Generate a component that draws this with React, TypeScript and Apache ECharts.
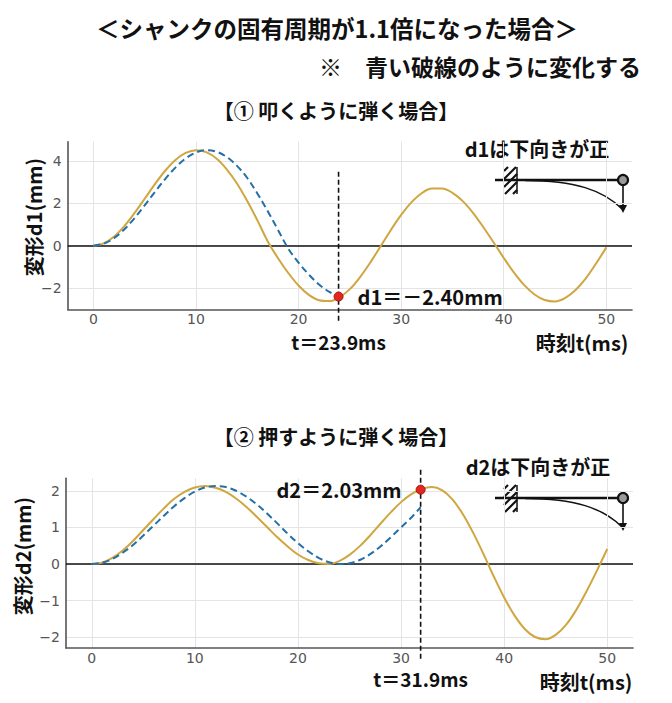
import React, { useEffect, useRef } from "react";
import * as echarts from "echarts";

// ---------- data ----------
const timeMs = [
  0, 1, 2, 3, 4, 5, 6, 7, 8, 9, 10, 11, 12, 13, 14, 15, 16, 17, 18, 19, 20, 21, 22, 23, 24, 25,
  26, 27, 28, 29, 30, 31, 32, 33, 34, 35, 36, 37, 38, 39, 40, 41, 42, 43, 44, 45, 46, 47, 48, 49, 50,
];
// ① 叩くように弾く場合 : original shank (solid)
const d1Original = [
  0, 0.11, 0.42, 0.91, 1.53, 2.21, 2.9, 3.53, 4.04, 4.37, 4.5, 4.41, 4.11, 3.6, 2.93, 2.1, 1.18,
  0.2, -0.59, -1.29, -1.88, -2.32, -2.57, -2.61, -2.43, -2.05, -1.48, -0.79, -0.03, 0.74, 1.45,
  2.04, 2.47, 2.69, 2.69, 2.49, 2.1, 1.55, 0.88, 0.16, -0.58, -1.27, -1.86, -2.3, -2.56, -2.63,
  -2.46, -2.09, -1.54, -0.84, -0.08,
];
// ① period x1.1 (blue dashed)
const d1StretchedTime = [
  0, 1, 2, 3, 4, 5, 6, 7, 8, 9, 10, 11, 12, 13, 14, 15, 16, 17, 18, 19, 20, 21, 22, 23, 23.9,
];
const d1Stretched = [
  0, 0.09, 0.35, 0.76, 1.29, 1.9, 2.53, 3.14, 3.68, 4.11, 4.39, 4.5, 4.43, 4.18, 3.76, 3.19, 2.45,
  1.62, 0.74, -0.14, -0.8, -1.36, -1.83, -2.18, -2.4,
];
const d1Marker = [23.9, -2.4];

// ② 押すように弾く場合 : original shank (solid)
const d2Original = [
  0, 0.04, 0.17, 0.37, 0.63, 0.93, 1.23, 1.52, 1.78, 1.97, 2.09, 2.13, 2.08, 1.97, 1.79, 1.56,
  1.29, 1.01, 0.73, 0.48, 0.26, 0.11, 0.02, 0.0, 0.08, 0.25, 0.49, 0.78, 1.1, 1.41, 1.69, 1.91,
  2.05, 2.1, 2.01, 1.76, 1.36, 0.85, 0.27, -0.34, -0.91, -1.4, -1.77, -1.99, -2.05, -1.93, -1.66,
  -1.25, -0.74, -0.18, 0.41,
];
const d2StretchedTime = [
  0, 1, 2, 3, 4, 5, 6, 7, 8, 9, 10, 11, 12, 13, 14, 15, 16, 17, 18, 19, 20, 21, 22, 23, 24, 25,
  26, 27, 28, 29, 30, 31, 31.9,
];
const d2Stretched = [
  0, 0.04, 0.14, 0.31, 0.52, 0.78, 1.05, 1.32, 1.58, 1.8, 1.98, 2.09, 2.13, 2.1, 2.0, 1.84, 1.63,
  1.38, 1.11, 0.83, 0.57, 0.35, 0.17, 0.05, 0.0, 0.02, 0.11, 0.27, 0.48, 0.73, 1.0, 1.27, 1.55,
];
const d2Marker = [31.9, 2.03];

const xTicks = [0, 10, 20, 30, 40, 50];
const y1Ticks = [-2, 0, 2, 4];
const y2Ticks = [-2, -1, 0, 1, 2];

// ---------- styles ----------
const CJK = '"Noto Sans CJK JP", "Noto Sans", sans-serif';
const NUM = '"DejaVu Sans", sans-serif';
const GOLD = "#cfa63f";
const BLUE = "#2370a8";
const AXIS = "#555555";

const minus = (v: number) => String(v).replace("-", "\u2212");
const zip = (xs: number[], ys: number[]) => xs.map((x, i) => [x, ys[i]]);

function text(str: string, x: number, y: number, size: number, align = "center", extra: any = {}) {
  return {
    type: "text",
    x,
    y,
    ...extra,
    style: {
      text: str,
      fill: "#111",
      font: `bold ${size}px ${CJK}`,
      textAlign: align,
      textVerticalAlign: "middle",
      align,
      verticalAlign: "middle",
    },
  };
}

function beam(ox: number, oy: number) {
  const hatch = [
    [9, -9, 13, -13],
    [9, -1, 21, -13],
    [9, 7, 22, -6],
    [10, 14, 22, 2],
    [18, 14, 22, 10],
  ];
  return {
    type: "group",
    x: ox,
    y: oy,
    children: [
      ...hatch.map((h) => ({
        type: "line",
        shape: { x1: h[0], y1: h[1], x2: h[2], y2: h[3] },
        style: { stroke: "#111", lineWidth: 2.2 },
      })),
      { type: "line", shape: { x1: 22, y1: -13, x2: 22, y2: 14 }, style: { stroke: "#111", lineWidth: 1.5 } },
      { type: "line", shape: { x1: 0, y1: 0, x2: 128, y2: 0 }, style: { stroke: "#111", lineWidth: 2.6 } },
      {
        type: "bezierCurve",
        shape: { x1: 30, y1: 0.5, cpx1: 80, cpy1: 0.5, cpx2: 108, cpy2: 10, x2: 127, y2: 29 },
        style: { stroke: "#111", lineWidth: 1.5, fill: null },
      },
      { type: "line", shape: { x1: 128, y1: 4, x2: 128, y2: 27 }, style: { stroke: "#111", lineWidth: 1.6 } },
      { type: "polygon", shape: { points: [[124, 25], [132, 25], [128, 33]] }, style: { fill: "#111" } },
      { type: "circle", shape: { cx: 128, cy: 0, r: 5 }, style: { fill: "#9a9a9a", stroke: "#111", lineWidth: 2.2 } },
    ],
  };
}

function axes(grid: number, yMin: number, yMax: number, yTicks: number[]) {
  const common = {
    gridIndex: grid,
    type: "value",
    axisLine: { show: true, onZero: false, lineStyle: { color: AXIS, width: 1.6 } },
    splitLine: { show: true, lineStyle: { color: "#e4e4e4", width: 1 } },
  };
  return {
    x: {
      ...common,
      min: -2.5,
      max: 52.5,
      axisTick: { show: false, customValues: xTicks },
      axisLabel: { customValues: xTicks, color: AXIS, fontSize: 14, fontFamily: NUM, margin: 3 },
    },
    y: {
      ...common,
      min: yMin,
      max: yMax,
      axisTick: { show: false, customValues: yTicks },
      axisLabel: {
        customValues: yTicks,
        color: AXIS,
        fontSize: 14,
        fontFamily: NUM,
        margin: 6,
        formatter: (v: number) => minus(v),
      },
    },
  };
}

function seriesFor(
  idx: number,
  orig: number[],
  stT: number[],
  st: number[],
  marker: number[],
  labelText: string,
  labelPos: string,
  cursorTop: number,
  cursorBottom: number,
  below: number
) {
  return [
    {
      type: "line",
      xAxisIndex: idx,
      yAxisIndex: idx,
      data: zip(timeMs, orig),
      symbol: "none",
      smooth: 0.35,
      lineStyle: { color: GOLD, width: 2 },
      z: 3,
      markLine: {
        silent: true,
        symbol: ["none", "none"],
        label: { show: false },
        lineStyle: { color: "#111", width: 1.6, type: "solid" },
        data: [{ yAxis: 0 }],
        z: 2,
      },
    },
    {
      type: "line",
      xAxisIndex: idx,
      yAxisIndex: idx,
      data: zip(stT, st),
      symbol: "none",
      smooth: 0.35,
      lineStyle: { color: BLUE, width: 2, type: [7, 4] },
      z: 4,
    },
    {
      type: "custom",
      xAxisIndex: idx,
      yAxisIndex: idx,
      clip: false,
      silent: true,
      z: 5,
      data: [marker],
      renderItem: (_p: any, api: any) => {
        const t = api.value(0);
        const top = api.coord([t, cursorTop]);
        const bot = api.coord([t, cursorBottom]);
        return {
          type: "group",
          children: [
            {
              type: "line",
              shape: { x1: top[0], y1: top[1], x2: bot[0], y2: bot[1] + below },
              style: { stroke: "#111", lineWidth: 1.6, lineDash: [5, 3] },
            },
            {
              type: "text",
              x: bot[0],
              y: bot[1] + below + 18,
              style: {
                text: `t＝${t}ms`,
                fill: "#111",
                font: `bold 19px ${CJK}`,
                textAlign: "center",
                textVerticalAlign: "middle",
                align: "center",
                verticalAlign: "middle",
              },
            },
          ],
        };
      },
    },
    {
      type: "scatter",
      xAxisIndex: idx,
      yAxisIndex: idx,
      data: [marker],
      symbolSize: 9,
      z: 10,
      itemStyle: { color: "#e3261e", borderColor: "#a81010", borderWidth: 1, opacity: 1 },
      label: {
        show: true,
        position: labelPos,
        distance: 14,
        formatter: labelText,
        color: "#111",
        fontSize: 20,
        fontWeight: "bold",
        fontFamily: CJK,
      },
    },
  ];
}

export default function App() {
  const ref = useRef<HTMLDivElement>(null);
  useEffect(() => {
    if (!ref.current) return;
    const chart = echarts.init(ref.current, null, { renderer: "svg" });
    const a1 = axes(0, -3.0, 4.9, y1Ticks);
    const a2 = axes(1, -2.29, 2.34, y2Ticks);
    const fmt = (v: number) => (v < 0 ? "－" + Math.abs(v).toFixed(2) : v.toFixed(2));
    chart.setOption({
      animation: false,
      backgroundColor: "#ffffff",
      grid: [
        { left: 67.7, top: 141.7, width: 564.3, height: 167.6 },
        { left: 66, top: 478.3, width: 567, height: 169.7 },
      ],
      xAxis: [a1.x, a2.x],
      yAxis: [a1.y, a2.y],
      series: [
        ...seriesFor(0, d1Original, d1StretchedTime, d1Stretched, d1Marker, `d1＝${fmt(d1Marker[1])}mm`, "right", 3.48, -3.0, 14),
        ...seriesFor(1, d2Original, d2StretchedTime, d2Stretched, d2Marker, `d2＝${fmt(d2Marker[1])}mm`, "left", 2.57, -2.29, 12),
      ],
      graphic: [
        text("＜シャンクの固有周期が1.1倍になった場合＞", 337, 28, 23.5),
        text("※　青い破線のように変化する", 641, 66, 23, "right"),
        text("【① 叩くように弾く場合】", 336, 110, 20),
        text("【② 押すように弾く場合】", 336, 436, 20),
        text("d1は下向きが正", 537, 148, 20),
        text("d2は下向きが正", 538, 466, 20),
        text("時刻t(ms)", 582, 342, 20),
        text("時刻t(ms)", 586, 681, 20),
        text("変形d1(mm)", 33, 217, 20, "center", { rotation: Math.PI / 2 }),
        text("変形d2(mm)", 22, 556, 20, "center", { rotation: Math.PI / 2 }),
        beam(495, 180),
        beam(495, 498),
      ],
    });
    return () => chart.dispose();
  }, []);
  return (
    <div
      ref={ref}
      style={{ position: "fixed", left: 0, top: 0, width: 672, height: 703, background: "#fff" }}
    />
  );
}
